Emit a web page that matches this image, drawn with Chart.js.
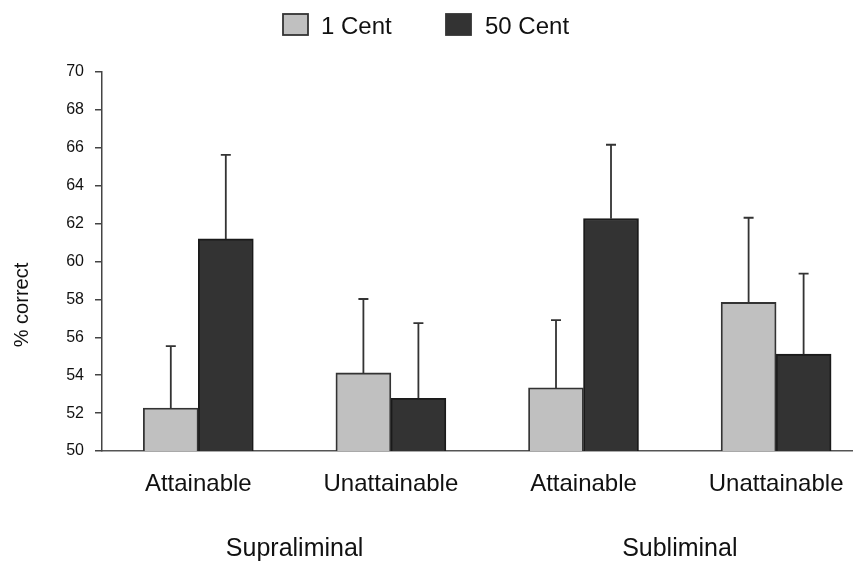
<!DOCTYPE html>
<html><head><meta charset="utf-8">
<script src="https://cdn.jsdelivr.net/npm/chart.js@4.4.1/dist/chart.umd.min.js"></script>
<style>html,body{margin:0;padding:0;background:#fff;overflow:hidden}#wrap{width:863px;height:563px;position:relative}</style>
</head><body><div id="wrap"><canvas id="c" width="863" height="563"></canvas></div>
<script>
const categories = ['Attainable', 'Unattainable', 'Attainable', 'Unattainable'];
const groups = ['Supraliminal', 'Subliminal'];
const seriesNames = ['1 Cent', '50 Cent'];
const cent1 = [52.27, 54.12, 53.33, 57.84];
const cent1Err = [3.26, 3.90, 3.58, 4.47];
const cent50 = [61.19, 52.78, 62.26, 55.11];
const cent50Err = [4.44, 3.97, 3.90, 4.25];
const yTicks = [50, 52, 54, 56, 58, 60, 62, 64, 66, 68, 70];
const yTitle = '% correct';

const FAMILY = "'Liberation Sans', Arial, Helvetica, sans-serif";
const TEXT = '#111';
const X_MIN = 0.5, X_MAX = 4.398;

const extras = {
  id: 'extras',
  afterDatasetsDraw(chart) {
    const ctx = chart.ctx, y = chart.scales.y;
    const errs = [cent1Err, cent50Err];
    ctx.save();
    ctx.strokeStyle = '#333';
    ctx.lineWidth = 1.8;
    chart.data.datasets.forEach((ds, di) => {
      chart.getDatasetMeta(di).data.forEach((bar, i) => {
        const v = ds.data[i].y;
        const top = y.getPixelForValue(v);
        const end = y.getPixelForValue(v + errs[di][i]);
        ctx.beginPath();
        ctx.moveTo(bar.x, top); ctx.lineTo(bar.x, end);
        ctx.moveTo(bar.x - 5, end); ctx.lineTo(bar.x + 5, end);
        ctx.stroke();
      });
    });
    ctx.restore();
  },
  afterDraw(chart) {
    const ctx = chart.ctx;
    ctx.save();
    // legend
    const boxX = [283, 446], textX = [321, 485];
    chart.data.datasets.forEach((ds, di) => {
      ctx.fillStyle = ds.backgroundColor;
      ctx.strokeStyle = '#333';
      ctx.lineWidth = 1.8;
      ctx.fillRect(boxX[di], 14, 25, 21);
      ctx.strokeRect(boxX[di], 14, 25, 21);
      ctx.fillStyle = TEXT;
      ctx.font = '24px ' + FAMILY;
      ctx.textAlign = 'left';
      ctx.textBaseline = 'middle';
      ctx.fillText(ds.label, textX[di], 27);
    });
    // y title
    ctx.translate(22, 305);
    ctx.rotate(-Math.PI / 2);
    ctx.font = '20px ' + FAMILY;
    ctx.textAlign = 'center';
    ctx.textBaseline = 'middle';
    ctx.fillStyle = TEXT;
    ctx.fillText(yTitle, 0, 0);
    ctx.restore();
  }
};

new Chart(document.getElementById('c'), {
  type: 'bar',
  data: {
    datasets: [
      { label: seriesNames[0], data: cent1.map((v, i) => ({ x: i + 1, y: v })),
        backgroundColor: '#c0c0c0', borderColor: '#333', borderWidth: 1.8 },
      { label: seriesNames[1], data: cent50.map((v, i) => ({ x: i + 1, y: v })),
        backgroundColor: '#333333', borderColor: '#1a1a1a', borderWidth: 1.8 }
    ]
  },
  options: {
    responsive: false,
    devicePixelRatio: 1,
    animation: false,
    barThickness: 55,
    layout: { padding: { top: 72, right: 5, bottom: 0, left: 0 } },
    plugins: { legend: { display: false }, tooltip: { enabled: false } },
    scales: {
      x: {
        type: 'linear', position: 'bottom', min: X_MIN, max: X_MAX, offset: false, weight: 0,
        grid: { display: false, drawTicks: false },
        border: { display: true, color: '#555', width: 1.5 },
        ticks: { autoSkip: false, maxRotation: 0, padding: 19, color: TEXT,
          font: { size: 24, family: FAMILY },
          callback: (v) => categories[Math.round(v) - 1] },
        afterBuildTicks: s => { s.ticks = categories.map((c, i) => ({ value: i + 1 })); },
        afterFit: s => { s.height = 62; }
      },
      x2: {
        type: 'linear', position: 'bottom', min: X_MIN, max: X_MAX, offset: false, weight: 1,
        grid: { display: false, drawTicks: false },
        border: { display: false },
        ticks: { autoSkip: false, maxRotation: 0, padding: 21, color: TEXT,
          font: { size: 25, family: FAMILY },
          callback: (v, i) => groups[i] },
        afterBuildTicks: s => { s.ticks = groups.map((g, i) => ({ value: 1.5 + 2 * i })); },
        afterFit: s => { s.height = 50; }
      },
      y: {
        type: 'linear', position: 'left', min: 50, max: 70,
        grid: { display: true, drawOnChartArea: false, drawTicks: true, tickLength: 7, color: '#444', lineWidth: 1.5 },
        border: { display: true, color: '#444', width: 1.5 },
        ticks: { padding: 11, color: TEXT, font: { size: 16, family: FAMILY } },
        afterBuildTicks: s => { s.ticks = yTicks.map(v => ({ value: v })); },
        afterFit: s => { s.width = 102; }
      }
    }
  },
  plugins: [extras]
});
</script>
</body></html>
